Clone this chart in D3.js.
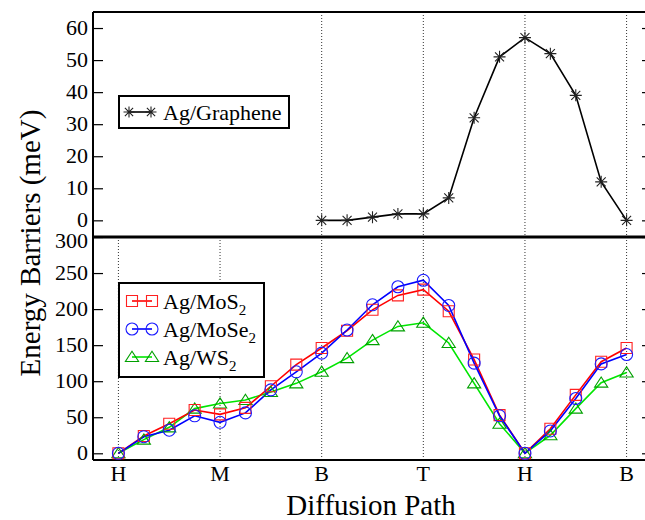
<!DOCTYPE html>
<html>
<head>
<meta charset="utf-8">
<script src="https://cdn.jsdelivr.net/npm/d3@7"></script>
<style>
  body { margin: 0; background: #fff; }
</style>
</head>
<body>
<div class="canvas"></div>
<script>
// data, x = step along the path
const pathLabels = ['H', 'M', 'B', 'T', 'H', 'B']
const labelSteps = [0, 4, 8, 12, 16, 20]
const steps = d3.range(0, 21)
const graphSteps = d3.range(8, 21)

const graphene = [0, 0, 1, 2, 2, 7, 32, 51, 57, 52, 39, 12, 0]
const mos2  = [0, 24, 41, 60, 54, 63, 93, 123, 146, 170, 199, 219, 227, 197, 130, 53, 0, 34, 81, 127, 146]
const mose2 = [0, 23, 32, 52, 43, 56, 88, 113, 139, 171, 206, 231, 240, 205, 125, 52, 0, 31, 76, 124, 137]
const ws2   = [0, 19, 36, 62, 69, 74, 85, 97, 113, 132, 157, 176, 181, 153, 97, 41, 0, 25, 62, 98, 112]

const topTicks = [0, 10, 20, 30, 40, 50, 60]
const botTicks = [0, 50, 100, 150, 200, 250, 300]

const dims = {width: 645, height: 520}
const box = {left: 93, right: 652, top: 12, mid: 237, bottom: 460}
const face = '"Liberation Serif"'

const svg = d3.select('.canvas')
    .append('svg')
    .attr('width', dims.width)
    .attr('height', dims.height)

const x = d3.scaleLinear().domain([-1, 21]).range([box.left, box.right])
const yTop = d3.scaleLinear().domain([-5.2, 65]).range([box.mid, box.top])
const yBot = d3.scaleLinear().domain([-9.3, 300]).range([box.bottom, box.mid])

// dotted path markers
const grid = svg.append('g')
    .attr('stroke', '#333')
    .attr('stroke-width', 1)
    .attr('stroke-dasharray', '1,2')
grid.selectAll('.gb').data(labelSteps).enter().append('line')
    .attr('x1', d => x(d)).attr('x2', d => x(d))
    .attr('y1', box.mid).attr('y2', box.bottom)
grid.selectAll('.gt').data(labelSteps.filter(d => d >= 8)).enter().append('line')
    .attr('x1', d => x(d)).attr('x2', d => x(d))
    .attr('y1', box.top).attr('y2', box.mid)

// y axes, ticks pointing inward on both sides
svg.append('g').attr('transform', `translate(${box.left},0)`)
    .call(d3.axisRight(yTop).tickValues(topTicks).tickSize(10).tickFormat(''))
svg.append('g').attr('transform', `translate(${box.right},0)`)
    .call(d3.axisLeft(yTop).tickValues(topTicks).tickSize(10).tickFormat(''))
svg.append('g').attr('transform', `translate(${box.left},0)`)
    .call(d3.axisRight(yBot).tickValues(botTicks).tickSize(10).tickFormat(''))
svg.append('g').attr('transform', `translate(${box.right},0)`)
    .call(d3.axisLeft(yBot).tickValues(botTicks).tickSize(10).tickFormat(''))
svg.selectAll('.domain').remove()
svg.selectAll('.tick line').attr('stroke', '#000').attr('stroke-width', 1.2)

const tickLabels = (scale, vals) => {
    svg.append('g').selectAll('text').data(vals).enter().append('text')
        .attr('x', 88)
        .attr('y', d => scale(d))
        .attr('dy', d => scale === yBot && d === 300 ? '0.48em' : '0.3em')
        .attr('text-anchor', 'end')
        .style('font-family', face)
        .style('font-size', '22px')
        .text(d => d)
}
tickLabels(yTop, topTicks)
tickLabels(yBot, botTicks)

// frame
const frame = svg.append('g').attr('stroke', '#000').attr('fill', 'none')
frame.append('line').attr('x1', box.left).attr('x2', box.right).attr('y1', box.top).attr('y2', box.top).attr('stroke-width', 2)
frame.append('line').attr('x1', box.left).attr('x2', box.right).attr('y1', box.mid).attr('y2', box.mid).attr('stroke-width', 3.2)
frame.append('line').attr('x1', box.left).attr('x2', box.right).attr('y1', box.bottom).attr('y2', box.bottom).attr('stroke-width', 2)
frame.append('line').attr('x1', box.left).attr('x2', box.left).attr('y1', box.top).attr('y2', box.bottom).attr('stroke-width', 2)
frame.append('line').attr('x1', box.right).attr('x2', box.right).attr('y1', box.top).attr('y2', box.bottom).attr('stroke-width', 2)

// x labels
svg.append('g').selectAll('text').data(labelSteps).enter().append('text')
    .attr('x', d => x(d))
    .attr('y', 481)
    .attr('text-anchor', 'middle')
    .style('font-family', face)
    .style('font-size', '22px')
    .text((d, i) => pathLabels[i])

svg.append('text')
    .attr('x', 371).attr('y', 515)
    .attr('text-anchor', 'middle')
    .style('font-family', face)
    .style('font-size', '29px')
    .text('Diffusion Path')

svg.append('text')
    .attr('transform', 'translate(40,243) rotate(-90)')
    .attr('text-anchor', 'middle')
    .style('font-family', face)
    .style('font-size', '29px')
    .text('Energy Barriers (meV)')

// marker shapes
const starPath = r => `M0,${-r}V${r}M${-r},0H${r}M${-r*0.75},${-r*0.75}L${r*0.75},${r*0.75}M${-r*0.75},${r*0.75}L${r*0.75},${-r*0.75}`
const squarePath = s => `M${-s},${-s}H${s}V${s}H${-s}Z`
const circlePath = r => `M${r},0A${r},${r},0,1,1,${-r},0A${r},${r},0,1,1,${r},0Z`
const triPath = s => `M0,${-s*0.95}L${s*1.1},${s*0.75}H${-s*1.1}Z`

const series = [
    {name: 'MoS', sub: '2', vals: mos2, line: '#ff0000', mark: '#ff2020', shape: squarePath(5.5)},
    {name: 'MoSe', sub: '2', vals: mose2, line: '#0000ff', mark: '#1a1aff', shape: circlePath(6)},
    {name: 'WS', sub: '2', vals: ws2, line: '#00e600', mark: '#00a000', shape: triPath(6)}
]

const lineBot = d3.line().x((d, i) => x(steps[i])).y(d => yBot(d))

// draw green first so red/blue sit on top
const order = [2, 0, 1]
order.forEach(k => {
    const s = series[k]
    svg.append('path')
        .attr('d', lineBot(s.vals))
        .attr('fill', 'none')
        .attr('stroke', s.line)
        .attr('stroke-width', 1.6)
})
order.forEach(k => {
    const s = series[k]
    svg.append('g').selectAll('path').data(s.vals).enter().append('path')
        .attr('transform', (d, i) => `translate(${x(steps[i])},${yBot(d)})`)
        .attr('d', s.shape)
        .attr('fill', 'none')
        .attr('stroke', s.mark)
        .attr('stroke-width', 1.1)
})

// graphene panel
const lineTop = d3.line().x((d, i) => x(graphSteps[i])).y(d => yTop(d))
svg.append('path')
    .attr('d', lineTop(graphene))
    .attr('fill', 'none')
    .attr('stroke', '#000')
    .attr('stroke-width', 1.6)
svg.append('g').selectAll('path').data(graphene).enter().append('path')
    .attr('transform', (d, i) => `translate(${x(graphSteps[i])},${yTop(d)})`)
    .attr('d', starPath(6))
    .attr('fill', 'none')
    .attr('stroke', '#222')
    .attr('stroke-width', 1.1)

// legends
const legTop = svg.append('g')
legTop.append('rect')
    .attr('x', 119).attr('y', 96).attr('width', 170).attr('height', 32)
    .attr('fill', '#fff').attr('stroke', '#000').attr('stroke-width', 2)
legTop.append('line').attr('x1', 129).attr('x2', 151).attr('y1', 112).attr('y2', 112)
    .attr('stroke', '#000').attr('stroke-width', 1.6)
legTop.selectAll('.s').data([129, 151]).enter().append('path')
    .attr('transform', d => `translate(${d},112)`)
    .attr('d', starPath(5.5))
    .attr('stroke', '#222').attr('stroke-width', 1.1).attr('fill', 'none')
legTop.append('text').attr('x', 163).attr('y', 120)
    .style('font-family', face).style('font-size', '22px').text('Ag/Graphene')

const legBot = svg.append('g')
legBot.append('rect')
    .attr('x', 119).attr('y', 283).attr('width', 145).attr('height', 94)
    .attr('fill', '#fff').attr('stroke', '#000').attr('stroke-width', 2)
const rows = [301, 329, 357]
series.forEach((s, i) => {
    const g = legBot.append('g').attr('transform', `translate(0,${rows[i]})`)
    g.append('line').attr('x1', 132).attr('x2', 152).attr('y1', 0).attr('y2', 0)
        .attr('stroke', s.line).attr('stroke-width', 1.6)
    g.selectAll('path').data([132, 152]).enter().append('path')
        .attr('transform', d => `translate(${d},0)`)
        .attr('d', s.shape)
        .attr('fill', 'none').attr('stroke', s.mark).attr('stroke-width', 1.1)
    const t = g.append('text').attr('x', 163).attr('y', 8)
        .style('font-family', face).style('font-size', '22px')
    t.append('tspan').text('Ag/' + s.name)
    t.append('tspan').style('font-size', '15px').attr('dy', 6).text(s.sub)
})
</script>
</body>
</html>
